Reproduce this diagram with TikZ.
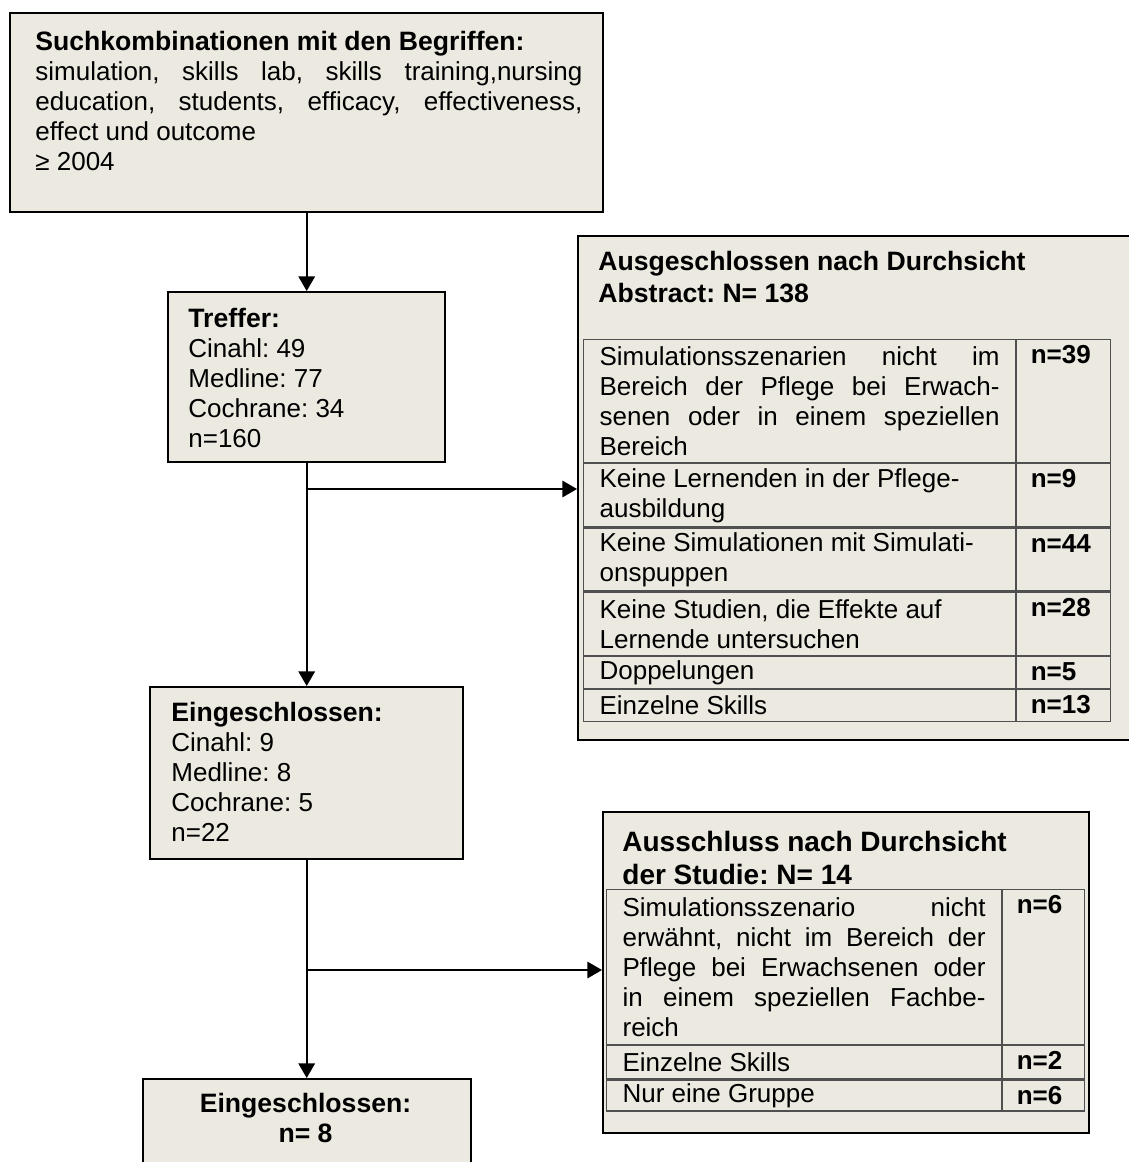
\documentclass[tikz,border=0pt]{standalone}
\usepackage{fontspec}
\setmainfont{Liberation Sans}
\usetikzlibrary{arrows}

\definecolor{boxfill}{RGB}{236,233,224}
\definecolor{gridline}{RGB}{80,80,80}
\newcommand\flowfont{\fontsize{13}{15}\selectfont\frenchspacing}
\newcommand\hd[1]{{\fontsize{13.3}{15}\selectfont\bfseries #1}}

\tikzset{
  box/.style={draw, line width=1.2pt, fill=boxfill, anchor=north west, inner sep=0pt},
  txt/.style={anchor=north west, inner sep=0pt, align=left, font=\flowfont},
  head/.style={txt, font=\fontsize{13.3}{16}\selectfont\frenchspacing\bfseries},
  cell/.style={draw=gridline, line width=0.6pt, anchor=north west, inner xsep=8pt, inner ysep=1pt, align=justify, font=\flowfont},
  ncell/.style={draw=gridline, line width=0.6pt, anchor=north west, inner xsep=7pt, inner ysep=1pt, align=left, font=\flowfont\bfseries, text height=11pt, text depth=#1},
  flow/.style={line width=1pt, -triangle 60}
}

\begin{document}
\begin{tikzpicture}[x=0.5pt,y=-0.5pt]
\useasboundingbox (0,0) rectangle (1129,1162);
\clip (0,0) rectangle (1129,1162);

% boxes of the main column
\node[box, minimum width=296.5pt, minimum height=99.5pt] (search) at (9,12) {};
\node[txt, text width=273.5pt, align=justify] (searchtxt) at (35,31) {\hd{Suchkombinationen mit den Begriffen:}\\ simulation, skills lab, skills training,nursing\linebreak education, students, efficacy, effectiveness,\linebreak effect und outcome\\ ≥ 2004};

\node[box, minimum width=138.5pt, minimum height=85pt] (hits) at (167,291) {};
\node[txt] (hitstxt) at (188,308) {\hd{Treffer:}\\Cinahl: 49\\Medline: 77\\Cochrane: 34\\n=160};

\node[box, minimum width=156.5pt, minimum height=86pt] (incl) at (149,686) {};
\node[txt] (incltxt) at (171,702) {\hd{Eingeschlossen:}\\Cinahl: 9\\Medline: 8\\Cochrane: 5\\n=22};

\node[box, minimum width=164pt, minimum height=51pt] (final) at (141.5,1078) {};
\node[txt, anchor=north, align=center] (finaltxt) at (305.5,1093) {\hd{Eingeschlossen:}\\\hd{n= 8}};

% first exclusion box
\node[box, minimum width=281.5pt, minimum height=252pt] (excl) at (577,235) {};
\node[head] (excltxt) at (598,251) {Ausgeschlossen nach Durchsicht\\Abstract: N= 138};
\node[cell, text width=200pt, minimum height=61.5pt] (ea) at (583,339) {Simulationsszenarien nicht im\linebreak Bereich der Pflege bei Erwach-\linebreak senen oder in einem speziellen\linebreak Bereich};
\node[ncell=48.5pt, text width=33pt, minimum height=61.5pt] (ean) at (ea.north east) {n=39};
\node[cell, text width=200pt, minimum height=31.5pt] (eb) at (ea.south west) {Keine Lernenden in der Pflege-\\ausbildung};
\node[ncell=18.5pt, text width=33pt, minimum height=31.5pt] (ebn) at (eb.north east) {n=9};
\node[cell, text width=200pt, minimum height=31.5pt] (ec) at (eb.south west) {Keine Simulationen mit Simulati-\\onspuppen};
\node[ncell=18.5pt, text width=33pt, minimum height=31.5pt] (ecn) at (ec.north east) {n=44};
\node[cell, text width=200pt, minimum height=31.5pt] (ed) at (ec.south west) {Keine Studien, die Effekte auf\\Lernende untersuchen};
\node[ncell=18.5pt, text width=33pt, minimum height=31.5pt] (edn) at (ed.north east) {n=28};
\node[cell, text width=200pt, minimum height=16pt] (ee) at (ed.south west) {Doppelungen};
\node[ncell=3pt, text width=33pt, minimum height=16pt] (een) at (ee.north east) {n=5};
\node[cell, text width=200pt, minimum height=16pt] (ef) at (ee.south west) {Einzelne Skills};
\node[ncell=3pt, text width=33pt, minimum height=16pt] (efn) at (ef.north east) {n=13};

% second exclusion box
\node[box, minimum width=243pt, minimum height=160.5pt] (excl2) at (602,811) {};
\node[txt, font=\fontsize{14}{16.5}\selectfont\frenchspacing\bfseries] (excl2txt) at (622,831) {Ausschluss nach Durchsicht\\der Studie: N= 14};
\node[cell, text width=181.5pt, minimum height=77.5pt] (sa) at (606,889) {Simulationsszenario nicht\linebreak erwähnt, nicht im Bereich der\linebreak Pflege bei Erwachsenen oder\linebreak in einem speziellen Fachbe-\linebreak reich};
\node[ncell=64.5pt, text width=27pt, minimum height=77.5pt] (san) at (sa.north east) {n=6};
\node[cell, text width=181.5pt, minimum height=16.5pt] (sb) at (sa.south west) {Einzelne Skills};
\node[ncell=3.5pt, text width=27pt, minimum height=16.5pt] (sbn) at (sb.north east) {n=2};
\node[cell, text width=181.5pt, minimum height=15.5pt] (sc) at (sb.south west) {Nur eine Gruppe};
\node[ncell=2.5pt, text width=27pt, minimum height=15.5pt] (scn) at (sc.north east) {n=6};

% connectors
\coordinate (b1) at (305.5,489);
\coordinate (b2) at (305.5,970);
\draw[flow] (search.south) -- (hits.north);
\draw[flow] (hits.south) -- (incl.north);
\draw[flow] (incl.south) -- (final.north);
\draw[flow] (b1) -- (b1 -| excl.west);
\draw[flow] (b2) -- (b2 -| excl2.west);
\end{tikzpicture}
\end{document}
